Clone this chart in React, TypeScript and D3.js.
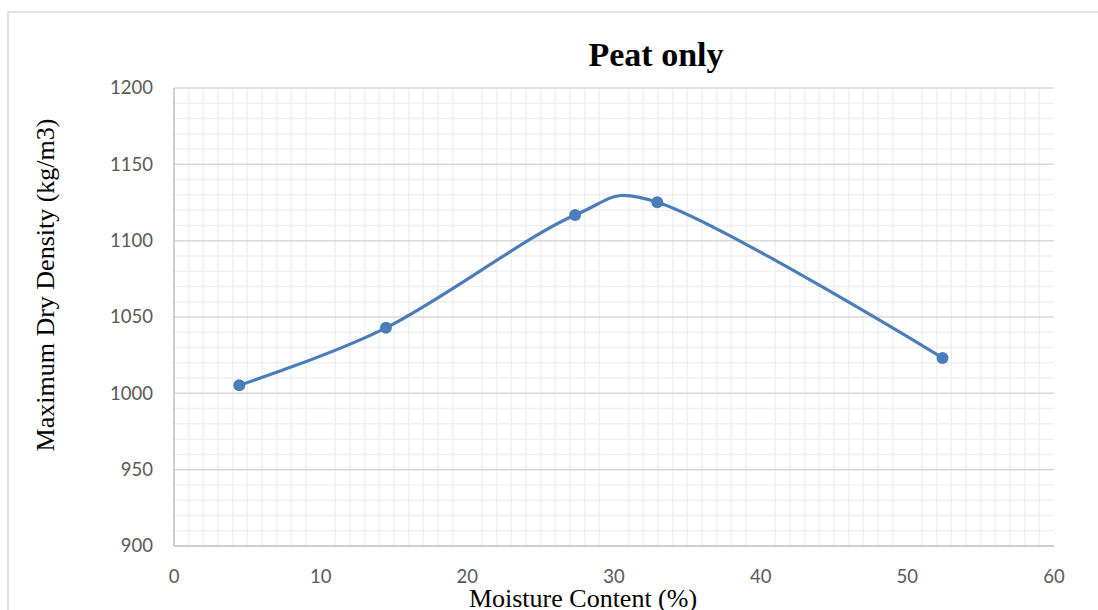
import React from "react";
import * as d3 from "d3";

// Compaction results for peat
const moisture = [4.45, 14.45, 27.35, 32.95, 52.4];
const dryDensity = [1005.3, 1042.9, 1116.8, 1125.2, 1023.2];

const xTicks = [0, 10, 20, 30, 40, 50, 60];
const yTicks = [900, 950, 1000, 1050, 1100, 1150, 1200];

const titleText = "Peat only";
const xTitle = "Moisture Content (%)";
const yTitle = "Maximum Dry Density (kg/m3)";

const W = 1098;
const H = 610;
const plot = { left: 174, right: 1054, top: 88, bottom: 546 };

export default function App() {
  const x = d3.scaleLinear().domain([0, 60]).range([plot.left, plot.right]);
  const y = d3.scaleLinear().domain([900, 1200]).range([plot.bottom, plot.top]);

  const minorX = d3.range(1, 60).filter((v) => v % 10 !== 0);
  const minorY = d3.range(910, 1200, 10).filter((v) => v % 50 !== 0);

  const pts: [number, number][] = moisture.map((m, i) => [x(m), y(dryDensity[i])]);
  const line = d3.line<[number, number]>().curve(d3.curveCatmullRom.alpha(0.2));
  const path = line(pts) || "";

  const tickFont = "Lato, 'Open Sans', sans-serif";
  const serif = "'Liberation Serif', 'Times New Roman', serif";

  return (
    <svg
      width={W}
      height={H}
      style={{ position: "absolute", left: 0, top: 0, background: "#fff" }}
    >
      {/* chart frame */}
      <rect x={8} y={12} width={W + 20} height={H + 20} fill="#fff" stroke="#d9d9d9" strokeWidth={1.5} />

      {/* minor grid */}
      {minorX.map((v) => (
        <line key={"mx" + v} x1={x(v)} x2={x(v)} y1={plot.top} y2={plot.bottom} stroke="#f0f0f0" strokeWidth={1.5} />
      ))}
      {minorY.map((v) => (
        <line key={"my" + v} x1={plot.left} x2={plot.right} y1={y(v)} y2={y(v)} stroke="#f0f0f0" strokeWidth={1.5} />
      ))}
      {/* major horizontal grid */}
      {yTicks.slice(1).map((v) => (
        <line key={"My" + v} x1={plot.left} x2={plot.right} y1={y(v)} y2={y(v)} stroke="#d9d9d9" strokeWidth={1.5} />
      ))}

      {/* axes */}
      <line x1={plot.left} x2={plot.left} y1={plot.top} y2={plot.bottom} stroke="#bfbfbf" strokeWidth={1.5} />
      <line x1={plot.left} x2={plot.right} y1={plot.bottom} y2={plot.bottom} stroke="#bfbfbf" strokeWidth={1.5} />

      {/* tick labels */}
      {yTicks.map((v) => (
        <text key={"yt" + v} x={153} y={y(v)} dy="0.35em" textAnchor="end" fontFamily={tickFont} fontSize={18.5} fill="#595959">
          {v}
        </text>
      ))}
      {xTicks.map((v) => (
        <text key={"xt" + v} x={x(v)} y={583} textAnchor="middle" fontFamily={tickFont} fontSize={18.5} fill="#595959">
          {v}
        </text>
      ))}

      {/* series */}
      <path d={path} fill="none" stroke="#4a7ebb" strokeWidth={3.2} strokeLinecap="round" />
      {pts.map(([px, py], i) => (
        <circle key={"p" + i} cx={px} cy={py} r={6} fill="#4a7ebb" />
      ))}

      {/* titles */}
      <text x={656} y={66} textAnchor="middle" fontFamily={serif} fontWeight="bold" fontSize={34} fill="#000">
        {titleText}
      </text>
      <text x={583} y={607} textAnchor="middle" fontFamily={serif} fontSize={26} fill="#000">
        {xTitle}
      </text>
      <text
        transform={`translate(54, 285) rotate(-90)`}
        textAnchor="middle"
        fontFamily={serif}
        fontSize={26}
        fill="#000"
      >
        {yTitle}
      </text>
    </svg>
  );
}
